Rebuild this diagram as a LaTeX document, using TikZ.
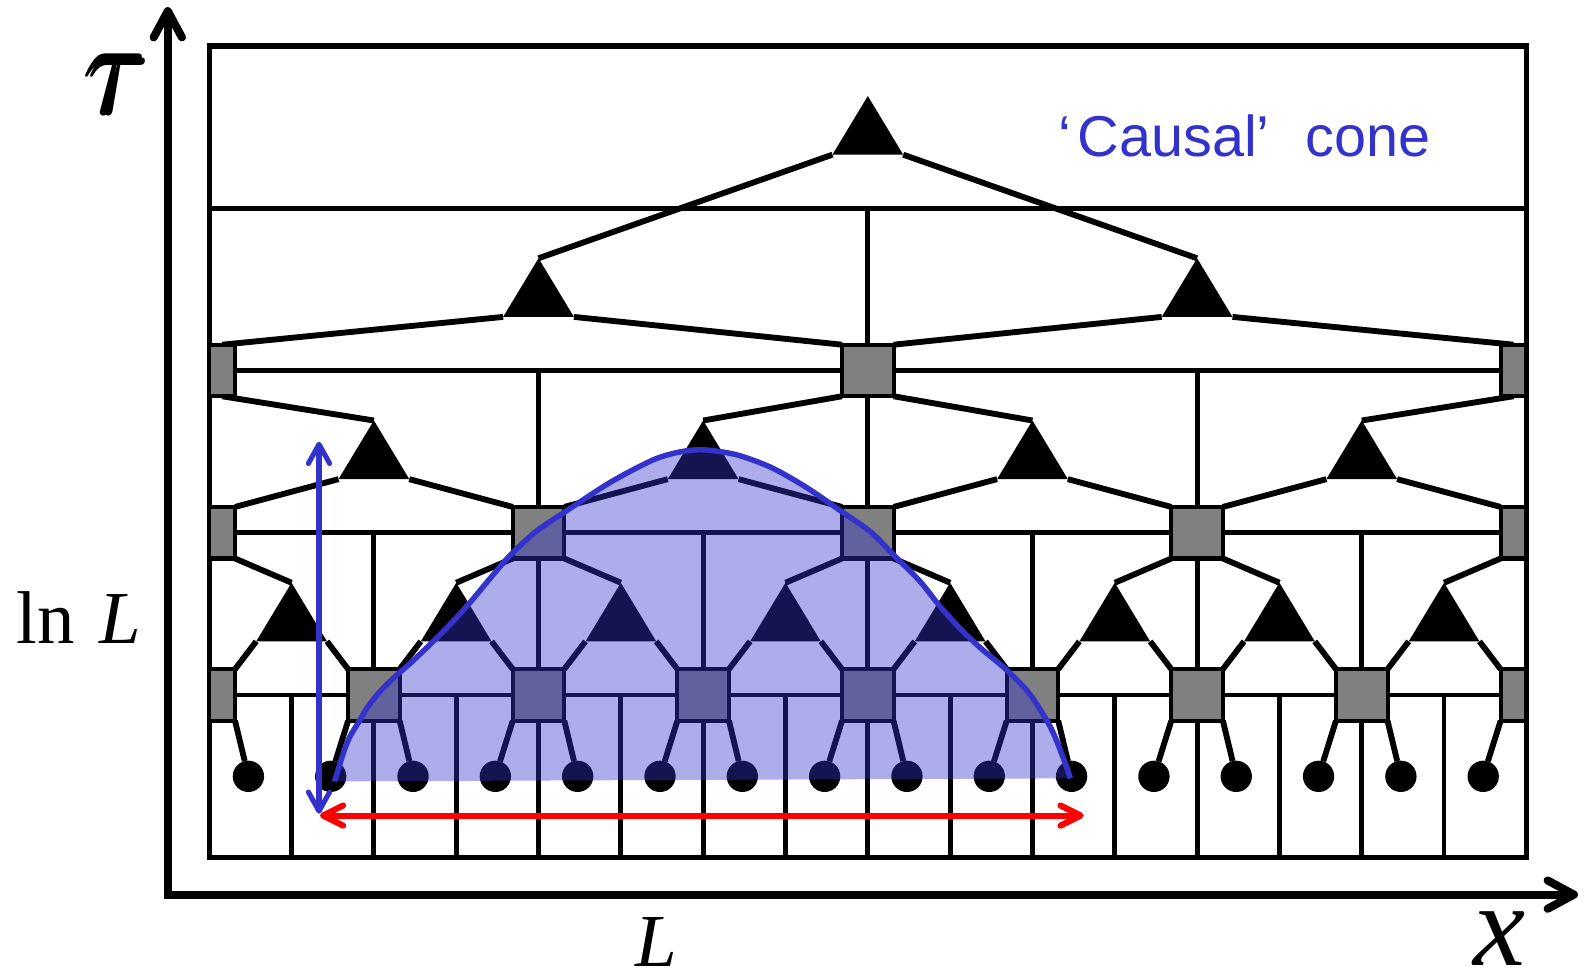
\documentclass[tikz,border=0pt]{standalone}
\usepackage{graphicx}
\usepackage{amsbsy}
\usepackage{fontspec}
\setmainfont{Liberation Serif}
\newfontfamily\labelsans{Liberation Sans}
\usetikzlibrary{arrows.meta}
\definecolor{cone}{RGB}{51,51,204}
\definecolor{sqgray}{RGB}{128,128,128}
\pgfdeclarelayer{gridlayer}
\pgfdeclarelayer{leglayer}
\pgfdeclarelayer{toplayer}
\pgfsetlayers{gridlayer,leglayer,main,toplayer}
\newcommand{\mtri}[4]{%
  \coordinate (#1-a) at (#2,#3);
  \coordinate (#1-l) at ({#2-35},#4);
  \coordinate (#1-r) at ({#2+35},#4);
  \fill (#1-a) -- (#1-l) -- (#1-r) -- cycle;}
\begin{document}
\begin{tikzpicture}[x=0.5pt,y=-0.5pt,
  gridline/.style={line width=2.4pt},
  leg/.style={line width=2.9pt},
  sq/.style={draw, fill=sqgray, line width=2pt, minimum width=25.5pt, minimum height=25.5pt, inner sep=0pt, outer sep=0pt},
  hsq/.style={sq, minimum width=12.75pt},
  dot/.style={circle, fill=black, minimum size=15.5pt, inner sep=0pt, outer sep=0pt},
  axisline/.style={line width=4pt, {Straight Barb[length=13pt,width=14pt,round]}-{Straight Barb[length=13pt,width=14pt,round]}},
  bluearrow/.style={cone, line width=2.5pt, {Straight Barb[length=9.5pt,width=10.5pt,round]}-{Straight Barb[length=9.5pt,width=10.5pt,round]}},
  redarrow/.style={red, line width=3pt, {Straight Barb[length=10pt,width=10pt,round]}-{Straight Barb[length=10pt,width=10pt,round]}},
  serifbig/.style={font=\fontsize{58}{58}\selectfont\itshape, inner sep=0pt},
  serifmid/.style={font=\fontsize{37}{37}\selectfont, inner sep=0pt},
]
\useasboundingbox (0,0) rectangle (1568,969);
\def\cw{81.4375}

% ---------- squares ----------
\node[sq] (S1-8) at (858.5,366.5) {};
\node[hsq] (S1-0) at (219.75,366.5) {};
\node[hsq] (S1-16) at (1497.25,366.5) {};
\foreach \k in {4,8,12} \node[sq] (S2-\k) at ({207+\k*\cw},527) {};
\node[hsq] (S2-0) at (219.75,527) {};
\node[hsq] (S2-16) at (1497.25,527) {};
\foreach \k in {2,4,...,14} \node[sq] (S3-\k) at ({207+\k*\cw},687.5) {};
\node[hsq] (S3-0) at (219.75,687.5) {};
\node[hsq] (S3-16) at (1497.25,687.5) {};

% ---------- triangles ----------
\mtri{T0-8}{858.5}{95}{153}
\foreach \k in {4,12}{\pgfmathsetmacro\xx{207+\k*\cw}\mtri{T1-\k}{\xx}{255.5}{313.5}}
\foreach \k in {2,6,10,14}{\pgfmathsetmacro\xx{207+\k*\cw}\mtri{T2-\k}{\xx}{416}{474}}
\foreach \k in {1,3,...,15}{\pgfmathsetmacro\xx{207+\k*\cw}\mtri{T3-\k}{\xx}{576.5}{634.5}}

% ---------- sites ----------
\foreach \k in {0,...,15} \node[dot] (C-\k) at ({207+(\k+0.5)*\cw-2},768) {};

% ---------- grid ----------
\begin{pgfonlayer}{gridlayer}
\draw[line width=2.5pt] (207,45.5) rectangle (1510,848);
\foreach \y in {206,366.5,527,687.5} \draw[gridline] (207,\y) -- (1510,\y);
\draw[gridline] (858.5,206) -- (858.5,848);
\foreach \k in {4,12} \draw[gridline] ({207+\k*\cw},366.5) -- ({207+\k*\cw},848);
\foreach \k in {2,6,10,14} \draw[gridline] ({207+\k*\cw},527) -- ({207+\k*\cw},848);
\foreach \k in {1,3,...,15} \draw[gridline] ({207+\k*\cw},687.5) -- ({207+\k*\cw},848);
\end{pgfonlayer}

% ---------- legs ----------
\begin{pgfonlayer}{leglayer}
\draw[leg] (T0-8-l) -- (T1-4-a);
\draw[leg] (T0-8-r) -- (T1-12-a);
\draw[leg] (T1-4-l) -- (S1-0.north);
\draw[leg] (T1-4-r) -- (S1-8.north west);
\draw[leg] (T1-12-l) -- (S1-8.north east);
\draw[leg] (T1-12-r) -- (S1-16.north);
\draw[leg] (S1-0.south) -- (T2-2-a);
\draw[leg] (S1-8.south west) -- (T2-6-a);
\draw[leg] (S1-8.south east) -- (T2-10-a);
\draw[leg] (S1-16.south) -- (T2-14-a);
\draw[leg] (T2-2-l) -- (S2-0.north east);
\draw[leg] (T2-2-r) -- (S2-4.north west);
\draw[leg] (T2-6-l) -- (S2-4.north east);
\draw[leg] (T2-6-r) -- (S2-8.north west);
\draw[leg] (T2-10-l) -- (S2-8.north east);
\draw[leg] (T2-10-r) -- (S2-12.north west);
\draw[leg] (T2-14-l) -- (S2-12.north east);
\draw[leg] (T2-14-r) -- (S2-16.north west);
\draw[leg] (S2-0.south east) -- (T3-1-a);
\draw[leg] (S2-4.south west) -- (T3-3-a);
\draw[leg] (S2-4.south east) -- (T3-5-a);
\draw[leg] (S2-8.south west) -- (T3-7-a);
\draw[leg] (S2-8.south east) -- (T3-9-a);
\draw[leg] (S2-12.south west) -- (T3-11-a);
\draw[leg] (S2-12.south east) -- (T3-13-a);
\draw[leg] (S2-16.south west) -- (T3-15-a);
\foreach \k in {1,3,...,15}{
  \pgfmathtruncatemacro\km{\k-1}
  \pgfmathtruncatemacro\kp{\k+1}
  \draw[leg] (T3-\k-l) -- (S3-\km.north east);
  \draw[leg] (T3-\k-r) -- (S3-\kp.north west);
}
\foreach \k in {0,2,...,14} \draw[leg] (S3-\k.south east) -- (C-\k);
\foreach \k in {2,4,...,16}{\pgfmathtruncatemacro\km{\k-1}\draw[leg] (S3-\k.south west) -- (C-\km);}
\end{pgfonlayer}

% ---------- causal cone, arrows, axes, labels ----------
\begin{pgfonlayer}{toplayer}
\draw[cone, line width=2.7pt, preaction={fill=cone, fill opacity=0.4, draw=none}]
  plot[smooth, tension=0.5] coordinates {
  (331,773) (335,760) (340,744) (346,729) (355,714) (364,699) (376,684) (389,671)
  (406,656) (425,638) (445,618) (465,596) (485,572) (505,549) (530,526) (561,505)
  (604,477) (646,455) (673,447) (697,445) (729,450) (762,462) (791,478) (811,491)
  (831,505) (861,526) (884,549) (910,575) (930,600) (950,622) (970,641) (996,663)
  (1019,687) (1039,719) (1050,745) (1059,770)};

\coordinate (bA) at (315.6,437);
\coordinate (bB) at (315.6,805);
\draw[bluearrow] (bA) -- (bB);
\coordinate (rA) at (316.5,806.8);
\coordinate (rB) at (1072,806.8);
\draw[redarrow] (rA) -- (rB);

\coordinate (tauTip) at (166,7);
\coordinate (O) at (166,885);
\coordinate (xTip) at (1561,885);
\draw[axisline] (tauTip) -- (O) -- (xTip);

\node[inner sep=0pt, anchor=center] (taulab) at (117,83) {\scalebox{5.6}[6.5]{$\pmb{\tau}$}};
\node[serifbig, anchor=base] (xlab) at (1483,955) {x};
\node[serifmid, anchor=base] (Llab) at (649,956) {\itshape L};
\node[serifmid, anchor=base west] (lnLlab) at (16,637) {ln\hspace{3pt} \textit{L}};
\node[font=\labelsans\fontsize{28.5}{28.5}\selectfont, text=cone, anchor=base west, inner sep=0pt] (cclab) at (1047,155) {‘\hspace{3pt}Causal’\hspace{10pt} cone};
\end{pgfonlayer}
\end{tikzpicture}
\end{document}
